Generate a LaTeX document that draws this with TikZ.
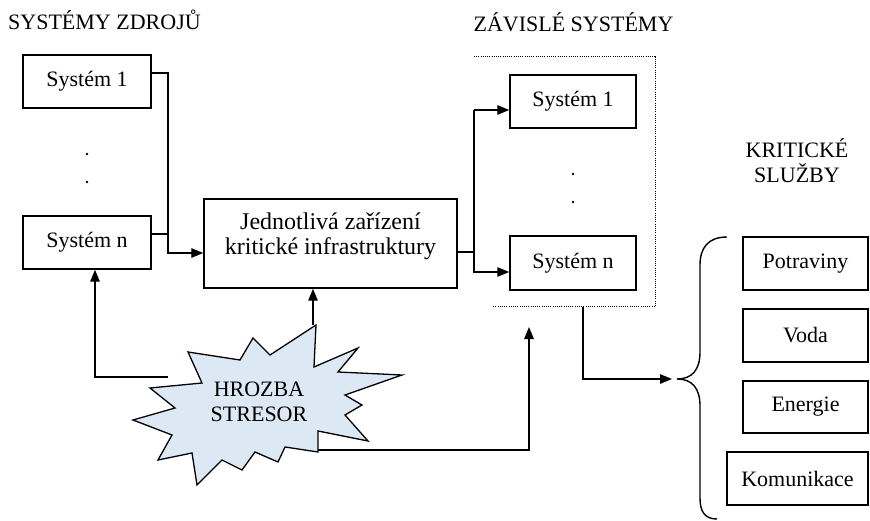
\documentclass[tikz,border=0pt]{standalone}
\usepackage{fontspec}
\setmainfont{Liberation Serif}
\usetikzlibrary{arrows.meta,calc}
\definecolor{starblue}{HTML}{DCE8F4}
\begin{document}
\begin{tikzpicture}[x=1pt,y=-1pt,
  box/.style={draw, line width=1.5pt, minimum width=#1, minimum height=53pt, inner sep=0pt, font=\fontsize{22}{25}\selectfont},
  box/.default=126pt,
  conn/.style={line width=1.4pt},
  arr/.style={conn, -{Triangle[length=12pt,width=9.5pt]}},
  ttl/.style={anchor=base, inner sep=0pt, font=\fontsize{22}{25}\selectfont},
  dotline/.style={line width=1pt, dash pattern=on 1pt off 1.2pt},
  dotmark/.style={circle, fill, inner sep=0pt, minimum size=2.8pt}
]
\useasboundingbox (0,0) rectangle (870,521);

% titles
\node[ttl, anchor=base west] (t1) at (8,30) {SYSTÉMY ZDROJŮ};
\node[ttl] (t2) at (573.5,32) {ZÁVISLÉ SYSTÉMY};
\node[ttl] (t3a) at (797,158) {KRITICKÉ};
\node[ttl] (t3b) at (797,183) {SLUŽBY};

% source systems
\node[box=128pt] (s1) at (87,81.5) {Systém 1};
\node[box=128pt] (sn) at (87,242.5) {Systém n};
\node[dotmark] (ld1) at (87,154) {};
\node[dotmark] (ld2) at (87,182) {};

% central box
\node[box=253pt, minimum height=89pt] (jedn) at (330.5,243.5) {};
\node[align=center, inner sep=0pt, font=\fontsize{24}{25}\selectfont] (jednt) at (330.5,236) {Jednotlivá zařízení\\kritické infrastruktury};

% dependent systems
\node[box=126pt] (d1) at (573,101.5) {Systém 1};
\node[box=126pt, minimum height=54pt] (dn) at (573,263) {Systém n};
\node[dotmark] (rd1) at (573,174) {};
\node[dotmark] (rd2) at (573,202) {};
\draw[dotline] (474,57) -- (655,57) -- (655,307) -- (492,307);
\coordinate (dbot) at (583,307);

% critical services
\node[box=125pt] (potr) at (805.5,263.5) {Potraviny};
\node[box=125pt] (voda) at (805.5,335.5) {Voda};
\node[box=125pt, minimum height=52pt] (energ) at (805.5,407) {Energie};
\node[box=141pt] (komun) at (797.5,478.5) {Komunikace};

% brace
\coordinate (btip) at (677,379);
\draw[conn] (727,237) .. controls (708,237) and (700,248) .. (700,265) -- (700,352)
  .. controls (700,370) and (692,379) .. (btip)
  .. controls (692,379) and (700,388) .. (700,406) -- (700,498)
  .. controls (700,512) and (705,519) .. (717,519);

% threat star
\draw[line width=1.3pt, fill=starblue, line join=miter]
  (316,325) -- (314,367) -- (358,348) -- (338,372) -- (402,375) -- (345,395)
  -- (362,405) -- (345,415) -- (368,441) -- (318,431) -- (318,452) -- (285,447)
  -- (278,462) -- (255,452) -- (242,470) -- (222,460) -- (197,485) -- (192,453)
  -- (158,460) -- (172,435) -- (133,420) -- (175,408) -- (150,388) -- (202,383)
  -- (188,352) -- (240,360) -- (253,338) -- (270,355) -- cycle;
\node[align=center, inner sep=0pt, font=\fontsize{22}{25}\selectfont] (star) at (259,402) {HROZBA\\STRESOR};
\coordinate (starL) at (168,377);
\coordinate (starT) at (313,325);
\coordinate (starR) at (318,450);
\coordinate (depT) at (529,327);

% connectors
\draw[conn] ([yshift=8.5pt]s1.east) -| (168,253);
\draw[arr] ([yshift=8.5pt]sn.east) -| (168,253) -- (168,253 -| jedn.west);
\draw[conn] ([yshift=-8.5pt]jedn.east) -| (474,110);
\draw[arr] (474,110) -- (474,110 -| d1.west);
\draw[arr] ([yshift=-8.5pt]jedn.east) -| (474,272) -- (474,272 -| dn.west);
\draw[arr] (starL) -| ([xshift=8pt]sn.south);
\draw[arr] (starT) -- (starT |- jedn.south);
\draw[arr] (starR) -| (depT);
\draw[arr] (dbot) |- ([xshift=-5pt]btip);
\end{tikzpicture}
\end{document}
